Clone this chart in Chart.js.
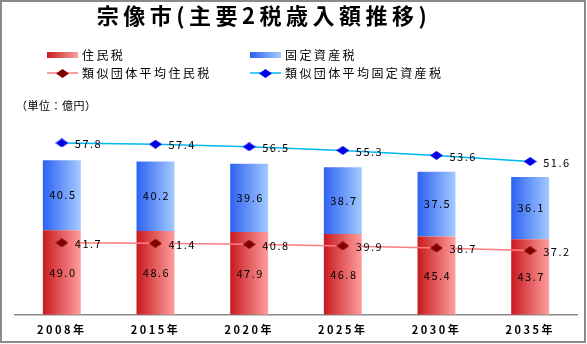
<!DOCTYPE html>
<html>
<head>
<meta charset="utf-8">
<script src="https://cdn.jsdelivr.net/npm/chart.js@4.4.1/dist/chart.umd.min.js"></script>
<style>
  html, body { margin: 0; padding: 0; background: #fff; }
  #wrap { position: relative; width: 587px; height: 344px; }
</style>
</head>
<body>
<div id="wrap"><canvas id="taxChart" width="587" height="344"></canvas></div>
<script>
const years = ['2008年', '2015年', '2020年', '2025年', '2030年', '2035年'];
const juminzei = [49.0, 48.6, 47.9, 46.8, 45.4, 43.7];
const koteiShisanzei = [40.5, 40.2, 39.6, 38.7, 37.5, 36.1];
const ruijiJuminzei = [41.7, 41.4, 40.8, 39.9, 38.7, 37.2];
const ruijiKotei = [57.8, 57.4, 56.5, 55.3, 53.6, 51.6];

const FONT = '"Noto Sans CJK JP", "Noto Sans", sans-serif';

// petit losange aplati pour les marqueurs
const makeDiamond = (color) => {
    const c = document.createElement('canvas');
    c.width = 13; c.height = 9;
    const g = c.getContext('2d');
    g.fillStyle = color;
    g.beginPath();
    g.moveTo(0, 4.5); g.lineTo(6.5, 0); g.lineTo(13, 4.5); g.lineTo(6.5, 9);
    g.closePath();
    g.fill();
    return c;
};
const redDiamond = makeDiamond('#800000');
const blueDiamond = makeDiamond('#0000E6');

const barGradient = (c1, c2) => (context) => {
    const chart = context.chart;
    const xs = chart.scales.x;
    if (!xs || !chart.chartArea) return c1;
    const cx = xs.getPixelForValue(context.dataIndex);
    const half = (xs.width / years.length) * 0.405 / 2;
    const g = chart.ctx.createLinearGradient(cx - half, 0, cx + half, 0);
    g.addColorStop(0, c1);
    g.addColorStop(1, c2);
    return g;
};

const decorPlugin = {
    id: 'decor',
    beforeDraw(chart) {
        const ctx = chart.ctx;
        ctx.save();
        ctx.fillStyle = '#fff';
        ctx.fillRect(0, 0, chart.width, chart.height);
        ctx.restore();
        ctx.letterSpacing = '2.5px';
    },
    afterDatasetsDraw(chart) {
        const ctx = chart.ctx;
        ctx.save();
        ctx.font = '11px ' + FONT;
        ctx.fillStyle = '#000';
        ctx.letterSpacing = '1.5px';
        ctx.textBaseline = 'middle';
        chart.data.datasets.forEach((ds, i) => {
            const meta = chart.getDatasetMeta(i);
            meta.data.forEach((el, j) => {
                const txt = ds.data[j].toFixed(1);
                if (ds.type === 'line') {
                    ctx.textAlign = 'left';
                    ctx.fillText(txt, el.x + 13, el.y + 1);
                } else {
                    ctx.textAlign = 'center';
                    ctx.fillText(txt, el.x + 1, (el.y + el.base) / 2);
                }
            });
        });
        ctx.restore();
    },
    afterDraw(chart) {
        const ctx = chart.ctx;
        ctx.save();
        ctx.fillStyle = '#000';
        ctx.textBaseline = 'middle';

        // titre
        ctx.font = 'bold 22px ' + FONT;
        ctx.letterSpacing = '4.5px';
        ctx.textAlign = 'center';
        ctx.fillText('宗像市(主要2税歳入額推移)', 264, 16);

        // légende
        ctx.font = '12px ' + FONT;
        ctx.letterSpacing = '2.4px';
        ctx.textAlign = 'left';
        let g = ctx.createLinearGradient(47, 0, 78, 0);
        g.addColorStop(0, '#C81A1E'); g.addColorStop(1, '#F7A0A0');
        ctx.fillStyle = g;
        ctx.fillRect(47, 52, 31, 6);
        g = ctx.createLinearGradient(250, 0, 281, 0);
        g.addColorStop(0, '#2D62F2'); g.addColorStop(1, '#A3CBFF');
        ctx.fillStyle = g;
        ctx.fillRect(250, 52, 31, 6);

        ctx.lineWidth = 1.5;
        ctx.strokeStyle = '#FF7C80';
        ctx.beginPath(); ctx.moveTo(47, 73); ctx.lineTo(78, 73); ctx.stroke();
        ctx.drawImage(redDiamond, 56, 69);
        ctx.strokeStyle = '#00B8F0';
        ctx.beginPath(); ctx.moveTo(250, 73); ctx.lineTo(281, 73); ctx.stroke();
        ctx.drawImage(blueDiamond, 259, 69);

        ctx.fillStyle = '#000';
        ctx.fillText('住民税', 82, 55);
        ctx.fillText('固定資産税', 285, 55);
        ctx.fillText('類似団体平均住民税', 82, 73);
        ctx.fillText('類似団体平均固定資産税', 285, 73);

        // unité
        ctx.font = '11px ' + FONT;
        ctx.letterSpacing = '0.5px';
        ctx.fillText('（単位：億円）', 16, 106);

        // cadre
        ctx.strokeStyle = '#8A8A8A';
        ctx.lineWidth = 2;
        ctx.strokeRect(1, 1, 584, 341);
        ctx.restore();
    }
};

const ctxChart = document.getElementById('taxChart').getContext('2d');

new Chart(ctxChart, {
    type: 'bar',
    data: {
        labels: years,
        datasets: [
            {
                type: 'line',
                label: '類似団体平均住民税',
                data: ruijiJuminzei,
                yAxisID: 'y',
                stack: 'ruiji',
                borderColor: '#FF7C80',
                borderWidth: 1.5,
                pointStyle: redDiamond,
                pointRadius: 6,
                tension: 0,
                order: 0
            },
            {
                type: 'line',
                label: '類似団体平均固定資産税',
                data: ruijiKotei,
                yAxisID: 'y',
                stack: 'ruiji',
                borderColor: '#00B8F0',
                borderWidth: 1.5,
                pointStyle: blueDiamond,
                pointRadius: 6,
                tension: 0,
                order: 0
            },
            {
                label: '住民税',
                data: juminzei,
                yAxisID: 'y',
                stack: 'zei',
                backgroundColor: barGradient('#C81A1E', '#FF9E9E'),
                barPercentage: 0.405,
                categoryPercentage: 1,
                order: 1
            },
            {
                label: '固定資産税',
                data: koteiShisanzei,
                yAxisID: 'y',
                stack: 'zei',
                backgroundColor: barGradient('#2D62F2', '#A3CBFF'),
                barPercentage: 0.405,
                categoryPercentage: 1,
                order: 1
            }
        ]
    },
    options: {
        responsive: false,
        animation: false,
        devicePixelRatio: 1,
        layout: {
            padding: { top: 100, left: 15, right: 10, bottom: 0 }
        },
        plugins: {
            legend: { display: false },
            title: { display: false },
            tooltip: { enabled: false }
        },
        scales: {
            x: {
                stacked: true,
                grid: { display: false, drawTicks: false },
                border: { display: true, color: '#8A8A8A', width: 1.5 },
                ticks: {
                    color: '#000',
                    padding: 8,
                    font: { family: FONT, size: 11, weight: 'bold' }
                }
            },
            y: {
                stacked: true,
                display: false,
                min: 0,
                max: 124.4
            }
        }
    },
    plugins: [decorPlugin]
});
</script>
</body>
</html>
